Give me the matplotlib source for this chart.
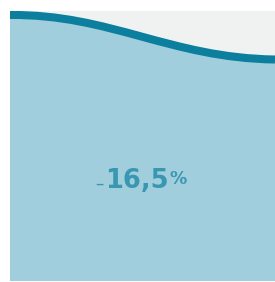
import matplotlib.pyplot as plt
from matplotlib.path import Path
from matplotlib.patches import PathPatch, Rectangle

# value shown in the panel
value = -16.5

# wave edge: bezier nodes (start, control, control, end) in pixel coords
wave_x = [10, 110, 170, 275]
wave_y = [15, 14, 58, 59.5]

panel_left, panel_top, panel_bottom = 10, 11, 281

fig = plt.figure(figsize=(2.75, 2.82), dpi=100)
ax = fig.add_axes([0, 0, 1, 1])
ax.set_xlim(0, 275)
ax.set_ylim(282, 0)
ax.axis('off')

# grey background of the panel
bg = Rectangle((panel_left, panel_top), 275 - panel_left, panel_bottom - panel_top,
               facecolor='#f0f2f2', edgecolor='none', zorder=1)
ax.add_patch(bg)

# blue area below the wave
verts = list(zip(wave_x, wave_y)) + [(275, panel_bottom), (panel_left, panel_bottom), (wave_x[0], wave_y[0])]
codes = [Path.MOVETO, Path.CURVE4, Path.CURVE4, Path.CURVE4, Path.LINETO, Path.LINETO, Path.CLOSEPOLY]
fill = PathPatch(Path(verts, codes), facecolor='#a1cedc', edgecolor='none', zorder=2)
ax.add_patch(fill)

# wave line
line_path = Path(list(zip(wave_x, wave_y)), [Path.MOVETO, Path.CURVE4, Path.CURVE4, Path.CURVE4])
line = PathPatch(line_path, facecolor='none', edgecolor='#0b7f9d', lw=5.8,
                 capstyle='butt', zorder=3)
ax.add_patch(line)
line.set_clip_path(bg)

# value label
txt_color = '#3a97b1'
num = f"{abs(value):.1f}".replace('.', ',')
ax.text(136.5, 188.5, num, ha='center', va='baseline', fontsize=18.5,
        fontweight='bold', color=txt_color, family='DejaVu Sans', zorder=4)
ax.text(99, 188.5, '–' if value < 0 else '', ha='center', va='baseline', fontsize=12,
        color=txt_color, family='DejaVu Sans', zorder=4)
ax.text(169.5, 170.5, '%', ha='left', va='top', fontsize=12.5,
        fontweight='bold', color=txt_color, family='DejaVu Sans', zorder=4)

fig.savefig('out.png', dpi=100)
